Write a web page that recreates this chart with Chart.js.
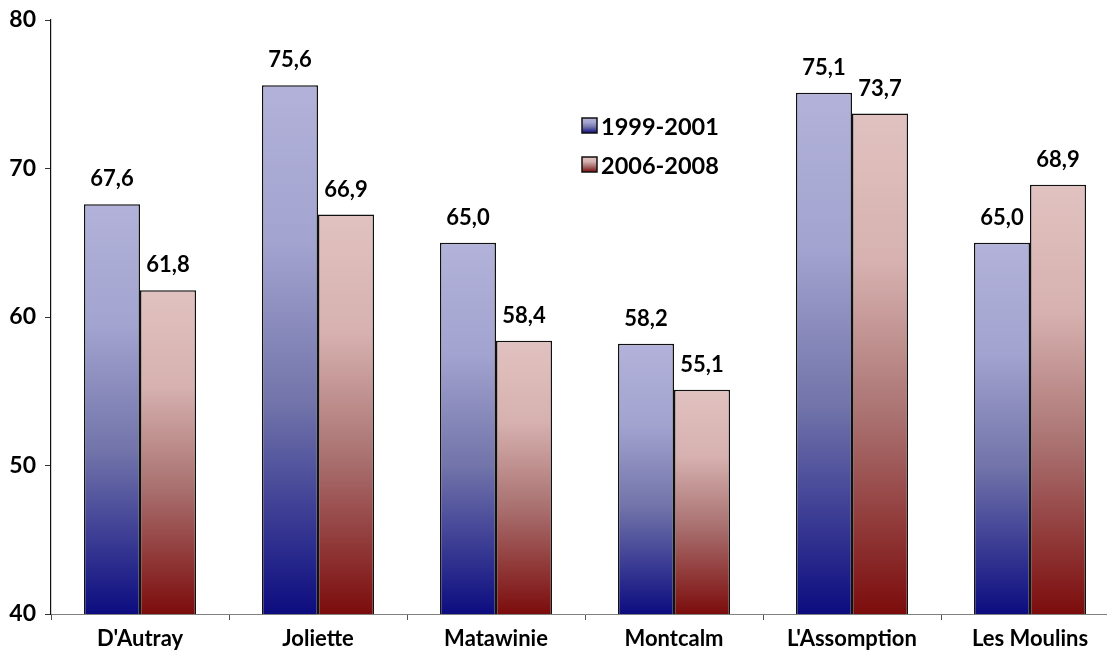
<!DOCTYPE html>
<html lang="fr">
<head>
  <meta charset="UTF-8">
  <title>Chart</title>
  <style>
    body {
      margin: 0;
      background: #ffffff;
      overflow: hidden;
    }

    .wrap {
      width: 1125px;
      height: 656px;
    }
  </style>
  <script src="https://cdn.jsdelivr.net/npm/chart.js"></script>
</head>
<body>
  <div class="wrap">
    <canvas id="chart" width="1125" height="656"></canvas>
  </div>

  <script>
    const categories = ["D'Autray", 'Joliette', 'Matawinie', 'Montcalm', "L'Assomption", 'Les Moulins'];
    const seriesNames = ['1999-2001', '2006-2008'];
    const values1999 = [67.6, 75.6, 65.0, 58.2, 75.1, 65.0];
    const values2006 = [61.8, 66.9, 58.4, 55.1, 73.7, 68.9];
    const yTicks = [40, 50, 60, 70, 80];

    const FONT = "Lato, 'DejaVu Sans', sans-serif";

    // colour stops, light at the top of each bar, dark at the base
    const blueStops = [[0, '#b2b2da'], [0.3, '#a2a3cf'], [0.6, '#7274aa'], [1, '#0c0c80']];
    const redStops = [[0, '#e1c2c0'], [0.3, '#d6b1af'], [0.6, '#aa7372'], [1, '#7c0c0c']];

    function makeGradient(ctx, top, bottom, stops) {
      const g = ctx.createLinearGradient(0, top, 0, bottom);
      stops.forEach(s => g.addColorStop(s[0], s[1]));
      return g;
    }

    function barFill(stops, flat) {
      return function (c) {
        const chart = c.chart;
        const y = chart.scales.y;
        if (!chart.chartArea || !y || c.raw === undefined) return flat;
        const top = y.getPixelForValue(c.raw);
        const bottom = y.getPixelForValue(yTicks[0]);
        return makeGradient(chart.ctx, top, bottom, stops);
      };
    }

    const fmt = v => v.toFixed(1).replace('.', ',');

    // value labels above the bars
    const valueLabels = {
      id: 'valueLabels',
      afterDatasetsDraw(chart) {
        const ctx = chart.ctx;
        ctx.save();
        ctx.font = 'bold 22px ' + FONT;
        ctx.fillStyle = '#000';
        ctx.textAlign = 'center';
        ctx.textBaseline = 'alphabetic';
        chart.data.datasets.forEach((ds, i) => {
          chart.getDatasetMeta(i).data.forEach((bar, j) => {
            ctx.fillText(fmt(ds.data[j]), bar.x, bar.y - 18);
          });
        });
        ctx.restore();
      }
    };

    // legend inside the plot
    const insideLegend = {
      id: 'insideLegend',
      afterDraw(chart) {
        const ctx = chart.ctx;
        const sets = [blueStops, redStops];
        ctx.save();
        ctx.font = 'bold 23.5px ' + FONT;
        ctx.textBaseline = 'middle';
        ctx.textAlign = 'left';
        seriesNames.forEach((name, i) => {
          const y0 = 118 + i * 39;
          ctx.fillStyle = makeGradient(ctx, y0, y0 + 15, sets[i]);
          ctx.fillRect(582, y0, 15, 15);
          ctx.strokeStyle = '#111';
          ctx.lineWidth = 1.5;
          ctx.strokeRect(582, y0, 15, 15);
          ctx.fillStyle = '#000';
          ctx.fillText(name, 601, y0 + 9);
        });
        ctx.restore();
      }
    };

    new Chart(document.getElementById('chart').getContext('2d'), {
      type: 'bar',
      data: {
        labels: categories,
        datasets: [{
          label: seriesNames[0],
          data: values1999,
          backgroundColor: barFill(blueStops, '#6d6fa6'),
          borderColor: '#111',
          borderWidth: 1.5
        }, {
          label: seriesNames[1],
          data: values2006,
          backgroundColor: barFill(redStops, '#a56c6b'),
          borderColor: '#111',
          borderWidth: 1.5
        }]
      },
      options: {
        responsive: false,
        animation: false,
        layout: { padding: { top: 20, right: 6, left: 0, bottom: 0 } },
        datasets: { bar: { categoryPercentage: 0.63, barPercentage: 1 } },
        plugins: {
          legend: { display: false },
          tooltip: { enabled: false }
        },
        scales: {
          x: {
            afterFit: s => { s.height = 42; },
            border: { color: '#808080', width: 1 },
            grid: { drawOnChartArea: false, offset: true, tickLength: 6, color: '#555' },
            ticks: { color: '#000', font: { family: FONT, size: 22, weight: 'bold' }, padding: 6, maxRotation: 0 }
          },
          y: {
            min: 40,
            max: 80,
            afterFit: s => { s.width = 51; s.paddingTop = 0; s.paddingBottom = 0; },
            afterBuildTicks: s => { s.ticks = yTicks.map(v => ({ value: v })); },
            border: { color: '#111', width: 1.2 },
            grid: { drawOnChartArea: false, tickLength: 6, color: '#333' },
            ticks: { color: '#000', font: { family: FONT, size: 23, weight: 'bold' }, padding: 9 }
          }
        }
      },
      plugins: [valueLabels, insideLegend]
    });
  </script>
</body>
</html>
